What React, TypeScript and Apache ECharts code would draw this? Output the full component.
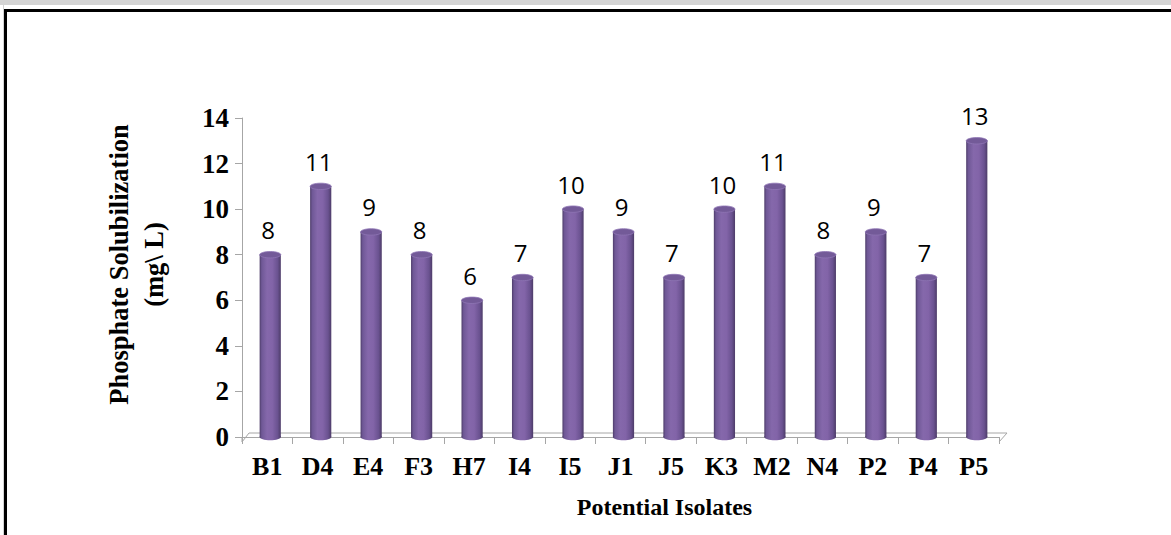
import React, { useEffect, useRef } from "react";
import * as echarts from "echarts";

const categories = ["B1", "D4", "E4", "F3", "H7", "I4", "I5", "J1", "J5", "K3", "M2", "N4", "P2", "P4", "P5"];
const values = [8, 11, 9, 8, 6, 7, 10, 9, 7, 10, 11, 8, 9, 7, 13];
const yMin = 0;
const yMax = 14;
const yStep = 2;
const yAxisTitle = "Phosphate Solubilization\n(mg\\ L)";
const xAxisTitle = "Potential Isolates";

const AXIS_GREY = "#a6a6a6";

export default function App() {
  const ref = useRef<HTMLDivElement>(null);

  useEffect(() => {
    document.body.style.margin = "0";
    const el = ref.current!;
    const chart = echarts.init(el, null, { renderer: "svg" });

    const bodyFill = {
      type: "linear",
      x: 0,
      y: 0,
      x2: 1,
      y2: 0,
      colorStops: [
        { offset: 0, color: "#4e3d6a" },
        { offset: 0.1, color: "#6f5896" },
        { offset: 0.35, color: "#8568ab" },
        { offset: 0.6, color: "#8264a8" },
        { offset: 0.85, color: "#6a5290" },
        { offset: 1, color: "#4d3c68" },
      ],
    };

    const renderItem = (params: any, api: any) => {
      const idx = api.value(0);
      const v = api.value(1);
      const top = api.coord([idx, v]);
      const base = api.coord([idx, 0]);
      const band = api.size([1, 0])[0];
      const w = band * 0.42;
      const rx = w / 2;
      const ry = 3.2;
      const cx = top[0] + 3;
      return {
        type: "group",
        children: [
          {
            type: "ellipse",
            shape: { cx, cy: base[1], rx, ry },
            style: { fill: bodyFill },
          },
          {
            type: "rect",
            shape: { x: cx - rx, y: top[1], width: w, height: base[1] - top[1] },
            style: { fill: bodyFill },
          },
          {
            type: "ellipse",
            shape: { cx, cy: top[1], rx, ry },
            style: { fill: "#735a98", stroke: "#8f76b5", lineWidth: 0.8 },
          },
          {
            type: "text",
            style: {
              text: String(v),
              x: top[0] + 1,
              y: top[1] - 13,
              align: "center",
              verticalAlign: "bottom",
              fontFamily: "Open Sans",
              fontSize: 24,
              fill: "#000",
            },
          },
        ],
      };
    };

    chart.setOption({
      animation: false,
      grid: { left: 242, right: 172, top: 118, bottom: 98, containLabel: false },
      xAxis: {
        type: "category",
        data: categories,
        boundaryGap: true,
        offset: 5,
        axisLine: { show: true, lineStyle: { color: AXIS_GREY, width: 1 } },
        axisTick: { show: true, length: 7, alignWithLabel: false, lineStyle: { color: AXIS_GREY } },
        axisLabel: {
          interval: 0,
          margin: 11,
          color: "#000",
          fontFamily: "Liberation Serif",
          fontWeight: "bold",
          fontSize: 26,
        },
        name: xAxisTitle,
        nameLocation: "middle",
        nameGap: 53,
        nameTextStyle: {
          color: "#000",
          fontFamily: "Liberation Serif",
          fontWeight: "bold",
          fontSize: 24,
          padding: [0, 0, 0, 88],
        },
      },
      yAxis: {
        type: "value",
        min: yMin,
        max: yMax,
        interval: yStep,
        axisLine: { show: true, lineStyle: { color: AXIS_GREY, width: 1 } },
        axisTick: { show: true, length: 7, lineStyle: { color: AXIS_GREY } },
        splitLine: { show: false },
        axisLabel: {
          margin: 13,
          color: "#000",
          fontFamily: "Liberation Serif",
          fontWeight: "bold",
          fontSize: 27,
        },
        name: yAxisTitle,
        nameLocation: "middle",
        nameRotate: 90,
        nameGap: 71,
        nameTextStyle: {
          color: "#000",
          fontFamily: "Liberation Serif",
          fontWeight: "bold",
          fontSize: 26.5,
          lineHeight: 35,
          align: "center",
          padding: [0, 0, 0, 26],
        },
      },
      series: [
        {
          type: "custom",
          data: values.map((v, i) => [i, v]),
          encode: { x: 0, y: 1 },
          renderItem,
          z: 5,
        },
      ],
    });

    // 3D floor outline (back edge + side edges), positioned from the axes' scales
    const first = chart.convertToPixel({ gridIndex: 0 }, [0, 0]) as number[];
    const last = chart.convertToPixel({ gridIndex: 0 }, [categories.length - 1, 0]) as number[];
    const band = (last[0] - first[0]) / (categories.length - 1);
    const leftEnd = first[0] - band / 2;
    const rightEnd = last[0] + band / 2;
    const baseY = first[1];
    const frontY = baseY + 5;
    const backY = baseY - 4;
    const depth = 7;
    chart.setOption({
      graphic: [
        {
          type: "polyline",
          silent: true,
          z: 1,
          shape: {
            points: [
              [leftEnd, baseY],
              [leftEnd, frontY],
              [leftEnd + depth, backY],
              [rightEnd + depth + 1, backY],
              [rightEnd, frontY],
            ],
          },
          style: { stroke: AXIS_GREY, fill: null, lineWidth: 1 },
        },
      ],
    });

    return () => chart.dispose();
  }, []);

  return (
    <div style={{ position: "absolute", left: 0, top: 0, width: 1171, height: 535, background: "#fff", overflow: "hidden" }}>
      <div style={{ position: "absolute", left: 0, top: 0, width: 1171, height: 5, background: "#d4d4d4" }} />
      <div style={{ position: "absolute", left: 3, top: 5, width: 1, height: 530, background: "#d4d4d4" }} />
      <div
        style={{
          position: "absolute",
          left: 4,
          top: 9,
          width: 1171,
          height: 540,
          borderLeft: "3px solid #000",
          borderTop: "3px solid #000",
          boxSizing: "border-box",
        }}
      />
      <div ref={ref} style={{ position: "absolute", left: 0, top: 0, width: 1171, height: 535 }} />
    </div>
  );
}
